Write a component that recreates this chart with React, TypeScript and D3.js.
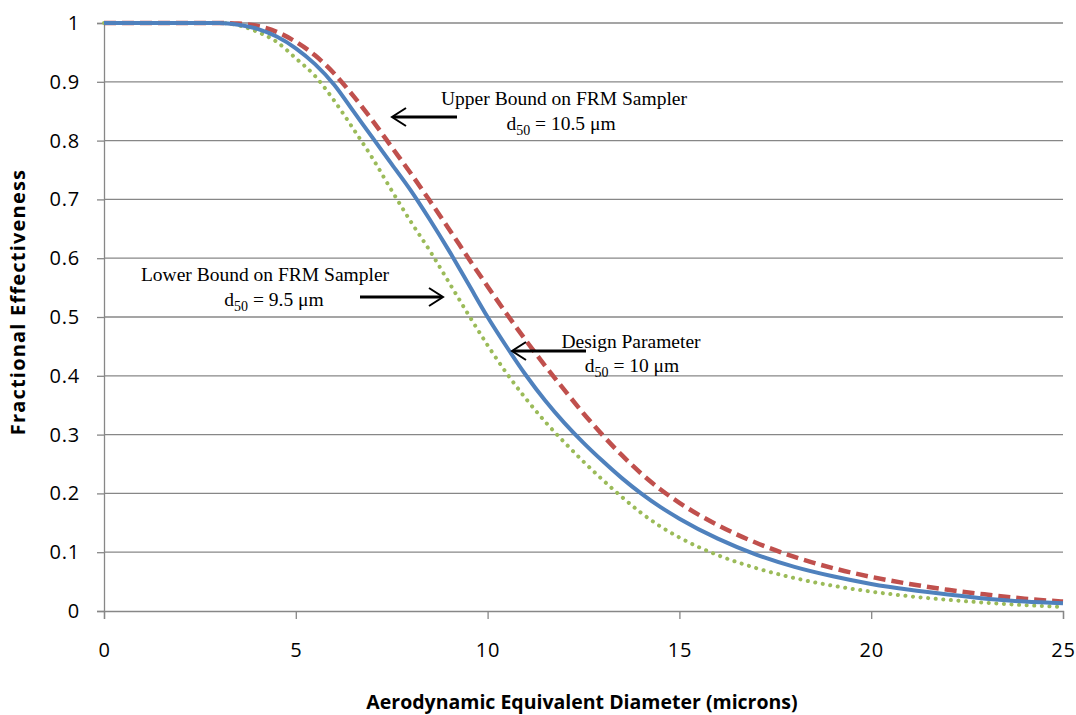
import React, { useEffect, useRef } from 'react';
import * as d3 from 'd3';

// diameter (microns) sampled along the curves
const diameters = [0, 1, 2, 3, 3.5, 4, 4.5, 5, 5.5, 6, 6.5, 7, 7.5, 8, 8.5, 9, 9.5, 10, 10.5, 11, 11.5, 12, 12.5, 13, 13.5, 14, 14.5, 15, 16, 17, 18, 19, 20, 21, 22, 23, 24, 25];

const designValues = [1, 1, 1, 1, 0.997, 0.99, 0.977, 0.957, 0.93, 0.895, 0.85, 0.805, 0.76, 0.715, 0.665, 0.612, 0.556, 0.5, 0.449, 0.401, 0.358, 0.32, 0.286, 0.255, 0.226, 0.2, 0.177, 0.157, 0.123, 0.096, 0.075, 0.059, 0.046, 0.036, 0.028, 0.021, 0.016, 0.013];
const upperValues = [1, 1, 1, 1, 0.999, 0.995, 0.985, 0.968, 0.945, 0.914, 0.876, 0.834, 0.789, 0.744, 0.697, 0.649, 0.6, 0.552, 0.505, 0.46, 0.417, 0.376, 0.336, 0.299, 0.265, 0.234, 0.207, 0.184, 0.146, 0.116, 0.092, 0.073, 0.058, 0.046, 0.036, 0.028, 0.021, 0.016];
const lowerValues = [1, 1, 1, 1, 0.996, 0.985, 0.968, 0.94, 0.91, 0.868, 0.82, 0.77, 0.715, 0.662, 0.612, 0.558, 0.504, 0.452, 0.404, 0.361, 0.322, 0.287, 0.254, 0.223, 0.194, 0.167, 0.144, 0.125, 0.095, 0.073, 0.056, 0.043, 0.033, 0.025, 0.019, 0.014, 0.01, 0.007];

const xTicks = [0, 5, 10, 15, 20, 25];
const yTicks = [0, 0.1, 0.2, 0.3, 0.4, 0.5, 0.6, 0.7, 0.8, 0.9, 1];

const xTitle = 'Aerodynamic Equivalent Diameter (microns)';
const yTitle = 'Fractional Effectiveness';

const App: React.FC = () => {
  const svgRef = useRef<SVGSVGElement>(null);
  const width = 1076;
  const height = 715;

  useEffect(() => {
    if (!svgRef.current) return;
    const svg = d3.select(svgRef.current);
    svg.selectAll('*').remove();

    const margin = { top: 23, right: 13, bottom: 104, left: 104 };
    const innerWidth = width - margin.left - margin.right;
    const innerHeight = height - margin.top - margin.bottom;

    const x = d3.scaleLinear().domain([0, 25]).range([0, innerWidth]);
    const y = d3.scaleLinear().domain([0, 1]).range([innerHeight, 0]);

    const g = svg.append('g').attr('transform', `translate(${margin.left},${margin.top})`);
    const sans = '"Open Sans", sans-serif';

    // horizontal grid
    g.append('g')
      .selectAll('line')
      .data(yTicks.filter(t => t > 0))
      .enter()
      .append('line')
      .attr('x1', 0)
      .attr('x2', innerWidth)
      .attr('y1', d => y(d))
      .attr('y2', d => y(d))
      .attr('stroke', '#878787')
      .attr('stroke-width', 1.3);

    // y axis
    const yAxis = g.append('g')
      .call(d3.axisLeft(y).tickValues(yTicks).tickSize(7).tickPadding(17).tickFormat(d => String(d)));
    yAxis.select('.domain').attr('stroke', '#878787').attr('stroke-width', 1.3);
    yAxis.selectAll('.tick line').attr('stroke', '#878787').attr('stroke-width', 1.3);
    yAxis.selectAll('.tick text')
      .attr('fill', '#000')
      .style('font-family', sans)
      .style('font-size', '20px')
      .style('letter-spacing', '0.8px');

    // x axis
    const xAxis = g.append('g')
      .attr('transform', `translate(0,${innerHeight})`)
      .call(d3.axisBottom(x).tickValues(xTicks).tickSize(8).tickPadding(24).tickFormat(d => String(d)));
    xAxis.select('.domain').attr('stroke', '#878787').attr('stroke-width', 1.3);
    xAxis.selectAll('.tick line').attr('stroke', '#878787').attr('stroke-width', 1.3);
    xAxis.selectAll('.tick text')
      .attr('fill', '#000')
      .style('font-family', sans)
      .style('font-size', '20px')
      .style('letter-spacing', '0.8px');

    const series = [
      { values: lowerValues, color: '#9BBB59', dash: '0.1 7.5', cap: 'round', w: 4 },
      { values: upperValues, color: '#C0504D', dash: '12 6', cap: 'butt', w: 4.5 },
      { values: designValues, color: '#4F81BD', dash: null, cap: 'butt', w: 4 },
    ];

    const line = d3.line<number>()
      .x((_, i) => x(diameters[i]))
      .y(d => y(d))
      .curve(d3.curveMonotoneX);

    series.forEach(s => {
      g.append('path')
        .datum(s.values)
        .attr('fill', 'none')
        .attr('stroke', s.color)
        .attr('stroke-width', s.w)
        .attr('stroke-linecap', s.cap)
        .attr('stroke-dasharray', s.dash)
        .attr('d', line);
    });

    // annotations
    const serif = '"Liberation Serif", "Times New Roman", serif';
    const note = (cx: number, cy: number, txt: string) =>
      svg.append('text')
        .attr('x', cx).attr('y', cy)
        .attr('text-anchor', 'middle')
        .style('font-family', serif)
        .style('font-size', '19.5px')
        .text(txt);
    const d50 = (cx: number, cy: number, val: string) => {
      const t = svg.append('text')
        .attr('x', cx).attr('y', cy)
        .attr('text-anchor', 'middle')
        .style('font-family', serif)
        .style('font-size', '19.5px');
      t.append('tspan').text('d');
      t.append('tspan').attr('dy', 5).style('font-size', '14px').text('50');
      t.append('tspan').attr('dy', -5).text(` = ${val} \u03bcm`);
    };
    const arrow = (x1: number, x2: number, yy: number) => {
      const dir = x2 > x1 ? 1 : -1;
      const a = svg.append('g').attr('stroke', '#000').attr('fill', 'none');
      a.append('line').attr('x1', x1).attr('x2', x2 - dir * 1).attr('y1', yy).attr('y2', yy).attr('stroke-width', 3);
      a.append('polyline')
        .attr('points', `${x2 - dir * 14},${yy - 9} ${x2},${yy} ${x2 - dir * 14},${yy + 9}`)
        .attr('stroke-width', 2);
    };

    note(564, 105, 'Upper Bound on FRM Sampler');
    d50(561, 130, '10.5');
    arrow(457, 392, 117);

    note(265, 281, 'Lower Bound on FRM Sampler');
    d50(274, 306, '9.5');
    arrow(360, 443, 297);

    note(631, 348, 'Design Parameter');
    d50(632, 372, '10');
    arrow(586, 512, 351);

    // axis titles
    svg.append('text')
      .attr('x', 582).attr('y', 709)
      .attr('text-anchor', 'middle')
      .style('font-family', sans)
      .style('font-weight', 'bold')
      .style('font-size', '19.5px')
      .text(xTitle);

    svg.append('text')
      .attr('transform', `translate(25,302) rotate(-90)`)
      .attr('text-anchor', 'middle')
      .style('font-family', sans)
      .style('font-weight', 'bold')
      .style('font-size', '20px')
      .style('letter-spacing', '1.2px')
      .text(yTitle);
  }, []);

  return (
    <div style={{ position: 'absolute', left: 0, top: 0, background: '#fff' }}>
      <svg ref={svgRef} width={width} height={height} style={{ display: 'block' }} />
    </div>
  );
};

export default App;
